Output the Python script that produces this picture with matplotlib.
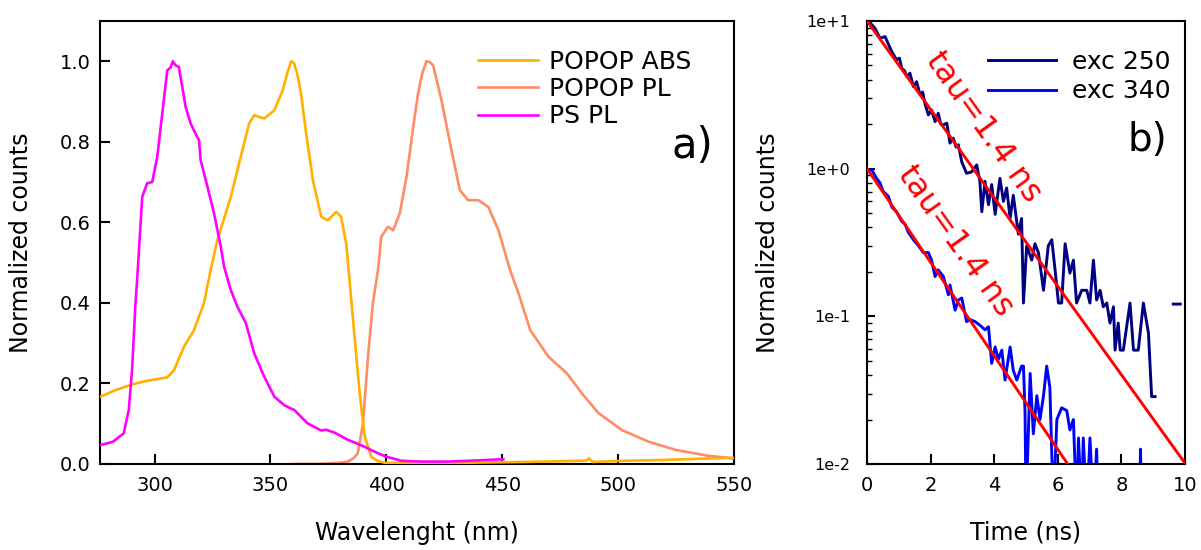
import numpy as np
import matplotlib
matplotlib.use("Agg")
import matplotlib.pyplot as plt
from matplotlib.ticker import FixedLocator, FuncFormatter, LogLocator, NullFormatter

plt.rcParams.update({
    'font.family': 'DejaVu Sans',
    'axes.linewidth': 1.5,
    'xtick.direction': 'in',
    'ytick.direction': 'in',
    'xtick.major.width': 1.5,
    'ytick.major.width': 1.5,
    'ytick.minor.width': 1.0,
})

# --- steady-state spectra (a) ---
abs_wl = [276.6, 283, 289.6, 294, 298.3, 305.5, 308.4, 312.7, 317.0, 321.3, 324.2, 327.1,
          332.9, 337.2, 340.8, 343.0, 345, 347.3, 351.7, 355.3, 357.5, 359.0, 360.2, 361.5,
          363.2, 365.4, 368.3, 371.9, 374.7, 378.4, 380.5, 382.7, 384.1, 386.3, 388.5, 390.7,
          393.5, 396, 399.3, 420, 460, 486, 487.5, 489, 503, 520, 535, 550]
abs_val = [0.167, 0.183, 0.196, 0.203, 0.208, 0.215, 0.233, 0.291, 0.332, 0.399, 0.481, 0.556,
           0.663, 0.763, 0.845, 0.866, 0.862, 0.858, 0.878, 0.928, 0.975, 1.0, 0.995, 0.97,
           0.92, 0.821, 0.705, 0.614, 0.605, 0.626, 0.614, 0.547, 0.457, 0.316, 0.175, 0.068,
           0.018, 0.008, 0.003, 0.002, 0.005, 0.008, 0.014, 0.005, 0.008, 0.010, 0.013, 0.015]

pl_wl = [359.4, 370, 380, 383.4, 386, 387.7, 389.9, 392.1, 394.2, 396.4, 397.8, 400.7, 402.9,
         405.8, 408.7, 411.6, 413.7, 415.5, 417.3, 418.6, 420.2, 423.8, 428.1, 431.7, 435.3, 439.7,
         444, 448.4, 453.4, 457, 462.1, 470, 477.9, 484.4, 491.6, 501.7, 513.3, 524.8, 539.2, 550]
pl_val = [0.0, 0.0, 0.003, 0.006, 0.015, 0.027, 0.1, 0.266, 0.4, 0.481, 0.564, 0.589, 0.58,
          0.622, 0.713, 0.837, 0.92, 0.97, 1.0, 0.998, 0.99, 0.903, 0.779, 0.68, 0.655, 0.655,
          0.638, 0.58, 0.481, 0.424, 0.332, 0.266, 0.225, 0.175, 0.126, 0.084, 0.055, 0.035, 0.02, 0.014]

ps_wl = [276.6, 282, 286.7, 288.9, 290.3, 291.8, 292.5, 294.7, 296.8, 299.0, 301.2, 304.0,
         305.5, 307.0, 307.9, 309, 310.5, 313.4, 315.6, 317.7, 319.2, 319.9, 322.1, 325.7,
         328.6, 330.0, 332.9, 335.8, 339.4, 343.0, 347.3, 351.7, 356.0, 358, 360.3, 366.0,
         371.9, 374, 377.6, 383.4, 389.0, 396.2, 400, 406.5, 415, 426.7, 440, 450.5]
ps_val = [0.047, 0.055, 0.076, 0.134, 0.233, 0.40, 0.457, 0.663, 0.697, 0.70, 0.763, 0.903,
          0.977, 0.985, 1.0, 0.99, 0.986, 0.887, 0.845, 0.82, 0.804, 0.754, 0.705, 0.622,
          0.539, 0.49, 0.432, 0.39, 0.35, 0.275, 0.217, 0.167, 0.146, 0.14, 0.134, 0.101,
          0.083, 0.085, 0.078, 0.06, 0.047, 0.027, 0.018, 0.008, 0.006, 0.006, 0.009, 0.012]

# --- time-resolved decays (b) ---
t_250 = [0, 0.12, 0.25, 0.41, 0.57, 0.68, 0.78, 0.93, 1.02, 1.09, 1.18, 1.25, 1.35, 1.46,
         1.56, 1.67, 1.75, 1.82, 1.93, 2.03, 2.14, 2.24, 2.32, 2.40, 2.51, 2.61, 2.71, 2.80,
         2.87, 2.98, 3.13, 3.29, 3.45, 3.55, 3.61, 3.71, 3.82, 3.92, 4.03, 4.18, 4.29, 4.39,
         4.50, 4.60, 4.76, 4.86, 4.92, 5.02, 5.18, 5.28, 5.39, 5.55, 5.70, 5.81, 5.91, 6.02,
         6.12, 6.23, 6.38, 6.49, 6.59, 6.75, 6.91, 7.01, 7.12, 7.22, 7.33, 7.43, 7.54, 7.64,
         7.75, 7.80, 7.90, 7.96, 8.06, 8.27, 8.38, 8.53, 8.69, 8.85, 8.95, 9.06, np.nan, 9.63, 9.85]
y_250 = [10.0, 9.6, 8.91, 7.64, 7.83, 6.9, 6.19, 5.45, 5.6, 4.79, 4.6, 4.20, 4.43, 3.59,
         3.88, 3.16, 3.3, 2.77, 2.31, 2.49, 2.08, 2.37, 2.0, 1.98, 2.03, 1.49, 1.61, 1.40,
         1.45, 1.11, 0.93, 0.95, 1.06, 0.82, 0.51, 0.82, 0.57, 0.78, 0.49, 0.86, 0.60, 0.74,
         0.46, 0.66, 0.36, 0.46, 0.123, 0.30, 0.24, 0.31, 0.27, 0.15, 0.30, 0.33, 0.21, 0.123,
         0.123, 0.31, 0.196, 0.24, 0.123, 0.15, 0.15, 0.123, 0.24, 0.129, 0.15, 0.116, 0.123, 0.090,
         0.116, 0.059, 0.090, 0.059, 0.059, 0.123, 0.059, 0.059, 0.123, 0.077, 0.0286, 0.0286,
         np.nan, 0.121, 0.121]

t_340 = [0, 0.15, 0.30, 0.41, 0.51, 0.67, 0.78, 0.93, 1.09, 1.20, 1.30, 1.46, 1.62, 1.77,
         1.93, 2.03, 2.14, 2.24, 2.40, 2.56, 2.61, 2.77, 2.87, 2.98, 3.13, 3.24, 3.40, 3.55,
         3.71, 3.82, 3.92, 4.03, 4.13, 4.24, 4.34, 4.50, 4.60, 4.71, 4.86, 4.92, 4.97, 5.00,
         5.13, 5.23, 5.34, 5.44, 5.55, 5.65, 5.75, 5.86, 5.97, 6.12, 6.28, 6.38, 6.49, 6.59,
         6.65, 6.75, 6.80, 6.91, 7.01, 7.12, 7.22, 7.27, np.nan, 8.57, 8.60, 8.63]
y_340 = [0.97, 0.98, 0.86, 0.80, 0.70, 0.65, 0.55, 0.51, 0.44, 0.42, 0.37, 0.33, 0.30, 0.27,
         0.27, 0.24, 0.186, 0.206, 0.186, 0.140, 0.163, 0.110, 0.129, 0.133, 0.092, 0.095, 0.092,
         0.087, 0.081, 0.085, 0.048, 0.062, 0.051, 0.059, 0.037, 0.062, 0.043, 0.037, 0.046, 0.046,
         0.022, 0.005, 0.041, 0.016, 0.029, 0.020, 0.029, 0.046, 0.033, 0.005, 0.020, 0.024, 0.023,
         0.017, 0.020, 0.005, 0.015, 0.005, 0.015, 0.005, 0.015, 0.005, 0.0126, 0.005, np.nan,
         0.005, 0.0126, 0.005]

# single-exponential fits: amplitude, lifetime (ns)
fit_amp = [10.0, 1.0]
fit_tau = [1.45, 1.37]
fit_label_pos = [(3.65, 1.91), (2.77, 0.324)]

fig = plt.figure(figsize=(12.01, 5.5), dpi=100)
ax1 = fig.add_axes([0.0833, 0.1564, 0.5279, 0.8055])
ax2 = fig.add_axes([0.7219, 0.1564, 0.2648, 0.8055])

# (a) spectra
ax1.plot(abs_wl, abs_val, color='#FFB000', lw=1.9, label='POPOP ABS', zorder=3)
ax1.plot(pl_wl, pl_val, color='#FF8C64', lw=1.9, label='POPOP PL', zorder=2)
ax1.plot(ps_wl, ps_val, color='#FF00FF', lw=1.9, label='PS PL', zorder=4)
ax1.set_xlim(276.5, 550)
ax1.set_ylim(0, 1.1)
ax1.xaxis.set_major_locator(FixedLocator([300, 350, 400, 450, 500, 550]))
ax1.yaxis.set_major_locator(FixedLocator([0.0, 0.2, 0.4, 0.6, 0.8, 1.0]))
ax1.yaxis.set_major_formatter(FuncFormatter(lambda v, p: f'{v:.1f}'))
ax1.tick_params(axis='both', labelsize=14, length=7)
ax1.tick_params(axis='y', pad=7)
ax1.tick_params(axis='x', pad=9)
ax1.set_xlabel('Wavelenght (nm)', fontsize=17)
ax1.set_ylabel('Normalized counts', fontsize=17)
ax1.xaxis.set_label_coords(0.5, -0.128)
ax1.yaxis.set_label_coords(-0.106, 0.5)
ax1.legend(loc='upper left', bbox_to_anchor=(0.596, 0.935), frameon=False, fontsize=18,
           handlelength=2.4, handletextpad=0.45, labelspacing=0.13, borderpad=0, borderaxespad=0)
ax1.text(0.935, 0.718, 'a)', transform=ax1.transAxes, fontsize=30, ha='center', va='center')

# (b) decays
ax2.plot(t_250, y_250, color='#000080', lw=2.1, label='exc 250')
ax2.plot(t_340, y_340, color='#0000FF', lw=2.1, label='exc 340')
t_fit = np.linspace(0, 10, 200)
for amp, tau, (tx, ty) in zip(fit_amp, fit_tau, fit_label_pos):
    ax2.plot(t_fit, amp * np.exp(-t_fit / tau), color='#FF0000', lw=2.1, zorder=5)
    ax2.text(tx, ty, f'tau={tau:.1f} ns', color='#FF0000', fontsize=23,
             rotation=-54.5, ha='center', va='center', rotation_mode='anchor')
ax2.set_yscale('log')
ax2.set_xlim(0, 10)
ax2.set_ylim(0.01, 10)
ax2.xaxis.set_major_locator(FixedLocator([0, 2, 4, 6, 8, 10]))
ax2.yaxis.set_major_locator(FixedLocator([0.01, 0.1, 1, 10]))
ax2.yaxis.set_major_formatter(FuncFormatter(lambda v, p: f'1e{int(round(np.log10(v))):+d}'))
ax2.yaxis.set_minor_locator(LogLocator(base=10, subs=np.arange(2, 10)))
ax2.yaxis.set_minor_formatter(NullFormatter())
ax2.tick_params(axis='x', labelsize=14, length=7.5, pad=9)
ax2.tick_params(axis='y', which='major', labelsize=11.5, length=6, pad=12)
ax2.tick_params(axis='y', which='minor', length=3.5)
ax2.set_xlabel('Time (ns)', fontsize=17)
ax2.set_ylabel('Normalized counts', fontsize=17)
ax2.xaxis.set_label_coords(0.5, -0.128)
ax2.yaxis.set_label_coords(-0.274, 0.5)
ax2.legend(loc='upper left', bbox_to_anchor=(0.381, 0.935), frameon=False, fontsize=18,
           handlelength=2.7, handletextpad=0.65, labelspacing=0.22, borderpad=0, borderaxespad=0)
ax2.text(0.881, 0.731, 'b)', transform=ax2.transAxes, fontsize=28, ha='center', va='center')

fig.savefig('out.png', dpi=100)
